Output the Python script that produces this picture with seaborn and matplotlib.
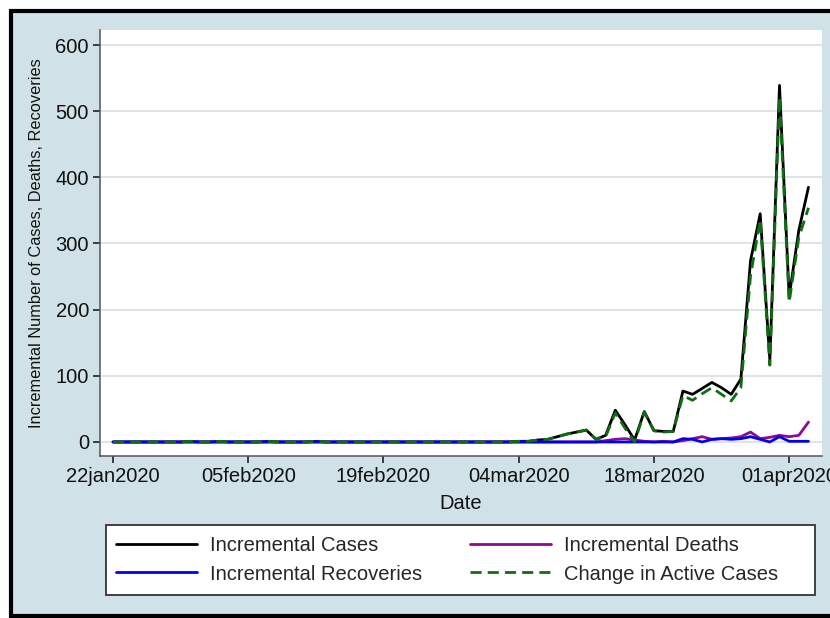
#!/usr/bin/env python3
"""Incremental cases / deaths / recoveries by date, Stata-like look."""
import matplotlib

matplotlib.use("Agg")
import matplotlib.dates as mdates
import matplotlib.pyplot as plt
import pandas as pd
import seaborn as sns
from matplotlib.lines import Line2D
from matplotlib.patches import Rectangle
from matplotlib.ticker import FuncFormatter

# daily values, 22jan2020 .. 03apr2020 (73 days)
start_date = "2020-01-22"
cases = [
    0, 0, 0, 0, 0, 0, 0, 0, 1, 0, 0, 1, 0, 0, 0, 0, 1, 0, 0, 0, 0,
    1, 0, 0, 0, 0, 0, 0, 0, 0, 0, 0, 0, 0, 0, 0, 0, 0, 0, 0, 0, 0,
    1, 1, 3, 4, 8, 12, 15, 18, 4, 10, 48, 26, 3, 46, 17, 16, 16,
    77, 72, 81, 90, 82, 72, 95, 274, 345, 123, 539, 220, 320, 385,
]
deaths = [0] * 50 + [
    0, 2, 4, 5, 3, 1, 0, 1, 0, 2, 5, 8, 4, 5, 6, 8, 15, 5, 7, 10, 8, 10, 30,
]
recoveries = [0] * 59 + [
    5, 4, 0, 4, 5, 4, 5, 8, 4, 0, 8, 1, 1, 1,
]
active = [
    0, 0, 0, 0, 0, 0, 0, 0, 1, 0, 0, 1, 0, 0, 0, 0, 1, 0, 0, 0, 0,
    1, 0, 0, 0, 0, 0, 0, 0, 0, 0, 0, 0, 0, 0, 0, 0, 0, 0, 0, 0, 0,
    1, 1, 3, 4, 8, 12, 15, 18, 4, 8, 44, 21, 0, 45, 17, 15, 16,
    70, 63, 73, 82, 72, 62, 82, 251, 336, 116, 521, 211, 309, 354,
]
tick_dates = ["2020-01-22", "2020-02-05", "2020-02-19", "2020-03-04", "2020-03-18", "2020-04-01"]
y_ticks = [0, 100, 200, 300, 400, 500, 600]

series = [
    ("Incremental Cases", cases, "#000000", "-"),
    ("Incremental Deaths", deaths, "#8e0a8e", "-"),
    ("Incremental Recoveries", recoveries, "#0000f0", "-"),
    ("Change in Active Cases", active, "#0f6e14", "--"),
]

dates = pd.date_range(start_date, periods=len(cases), freq="D")
df = pd.DataFrame({"date": dates})
for name, vals, _, _ in series:
    df[name] = vals

sns.set_theme(style="white")
plt.rcParams["font.family"] = ["Liberation Sans", "DejaVu Sans"]

region = "#d0e2e8"
fig = plt.figure(figsize=(8.3, 6.18), dpi=100, facecolor="white")
fig.patches.append(Rectangle((11 / 830, 2 / 618), 1.2, 1 - 13 / 618, transform=fig.transFigure,
                             facecolor=region, edgecolor="black", linewidth=3, zorder=-5))
ax = fig.add_axes([100 / 830, 1 - 456 / 618, 722 / 830, 426 / 618])
ax.set_facecolor("white")

handles = {}
for name, _, color, ls in series:
    sns.lineplot(data=df, x="date", y=name, ax=ax, color=color, linewidth=2.0,
                 linestyle=ls, legend=False)
    line = ax.get_lines()[-1]
    if ls == "--":
        line.set_dashes((4, 2.2))
    handles[name] = Line2D([], [], color=color, linewidth=2.0, linestyle=ls,
                           dashes=(4, 2.2) if ls == "--" else (None, None))

d0 = dates[0]
ax.set_xlim(d0 - pd.Timedelta(days=1.35), d0 + pd.Timedelta(days=73.4))
ax.set_ylim(-21.2, 622.7)
ax.set_xticks(pd.to_datetime(tick_dates))
ax.xaxis.set_major_formatter(FuncFormatter(lambda v, p: mdates.num2date(v).strftime("%d%b%Y").lower()))
ax.set_yticks(y_ticks)
ax.yaxis.grid(True, color="#dbe3e8", linewidth=1.3)
ax.set_axisbelow(True)
ax.tick_params(axis="both", labelsize=14.5, colors="#111111", length=5, width=1.1, pad=3,
               left=True, bottom=True, direction="out")
for side in ["top", "right"]:
    ax.spines[side].set_visible(False)
for side in ["left", "bottom"]:
    ax.spines[side].set_color("#555555")
    ax.spines[side].set_linewidth(1.1)

ax.set_xlabel("Date", fontsize=14.5, color="#111111")
ax.xaxis.set_label_coords(0.5, -0.09)
ax.set_ylabel("Incremental Number of Cases, Deaths, Recoveries", fontsize=11.8, color="#111111")
ax.yaxis.set_label_coords(-0.078, 0.5)

# legend frame drawn separately so the right margin can be wider than the left
fig.patches.append(Rectangle((106 / 830, 1 - 595 / 618), 709 / 830, 70 / 618, transform=fig.transFigure,
                             facecolor="white", edgecolor="#333333", linewidth=1.3, zorder=1))
order = ["Incremental Cases", "Incremental Recoveries", "Incremental Deaths", "Change in Active Cases"]
leg = fig.legend([handles[n] for n in order], order, ncol=2, mode="expand", loc="center",
                 bbox_to_anchor=(106 / 830, 1 - 595 / 618, 682 / 830, 70 / 618),
                 bbox_transform=fig.transFigure, fontsize=14.5, frameon=False,
                 handlelength=4.0, handletextpad=0.65,
                 labelspacing=0.45, borderpad=0.5, borderaxespad=0)
leg.set_zorder(2)

fig.savefig("out.png", dpi=100, facecolor=fig.get_facecolor())
